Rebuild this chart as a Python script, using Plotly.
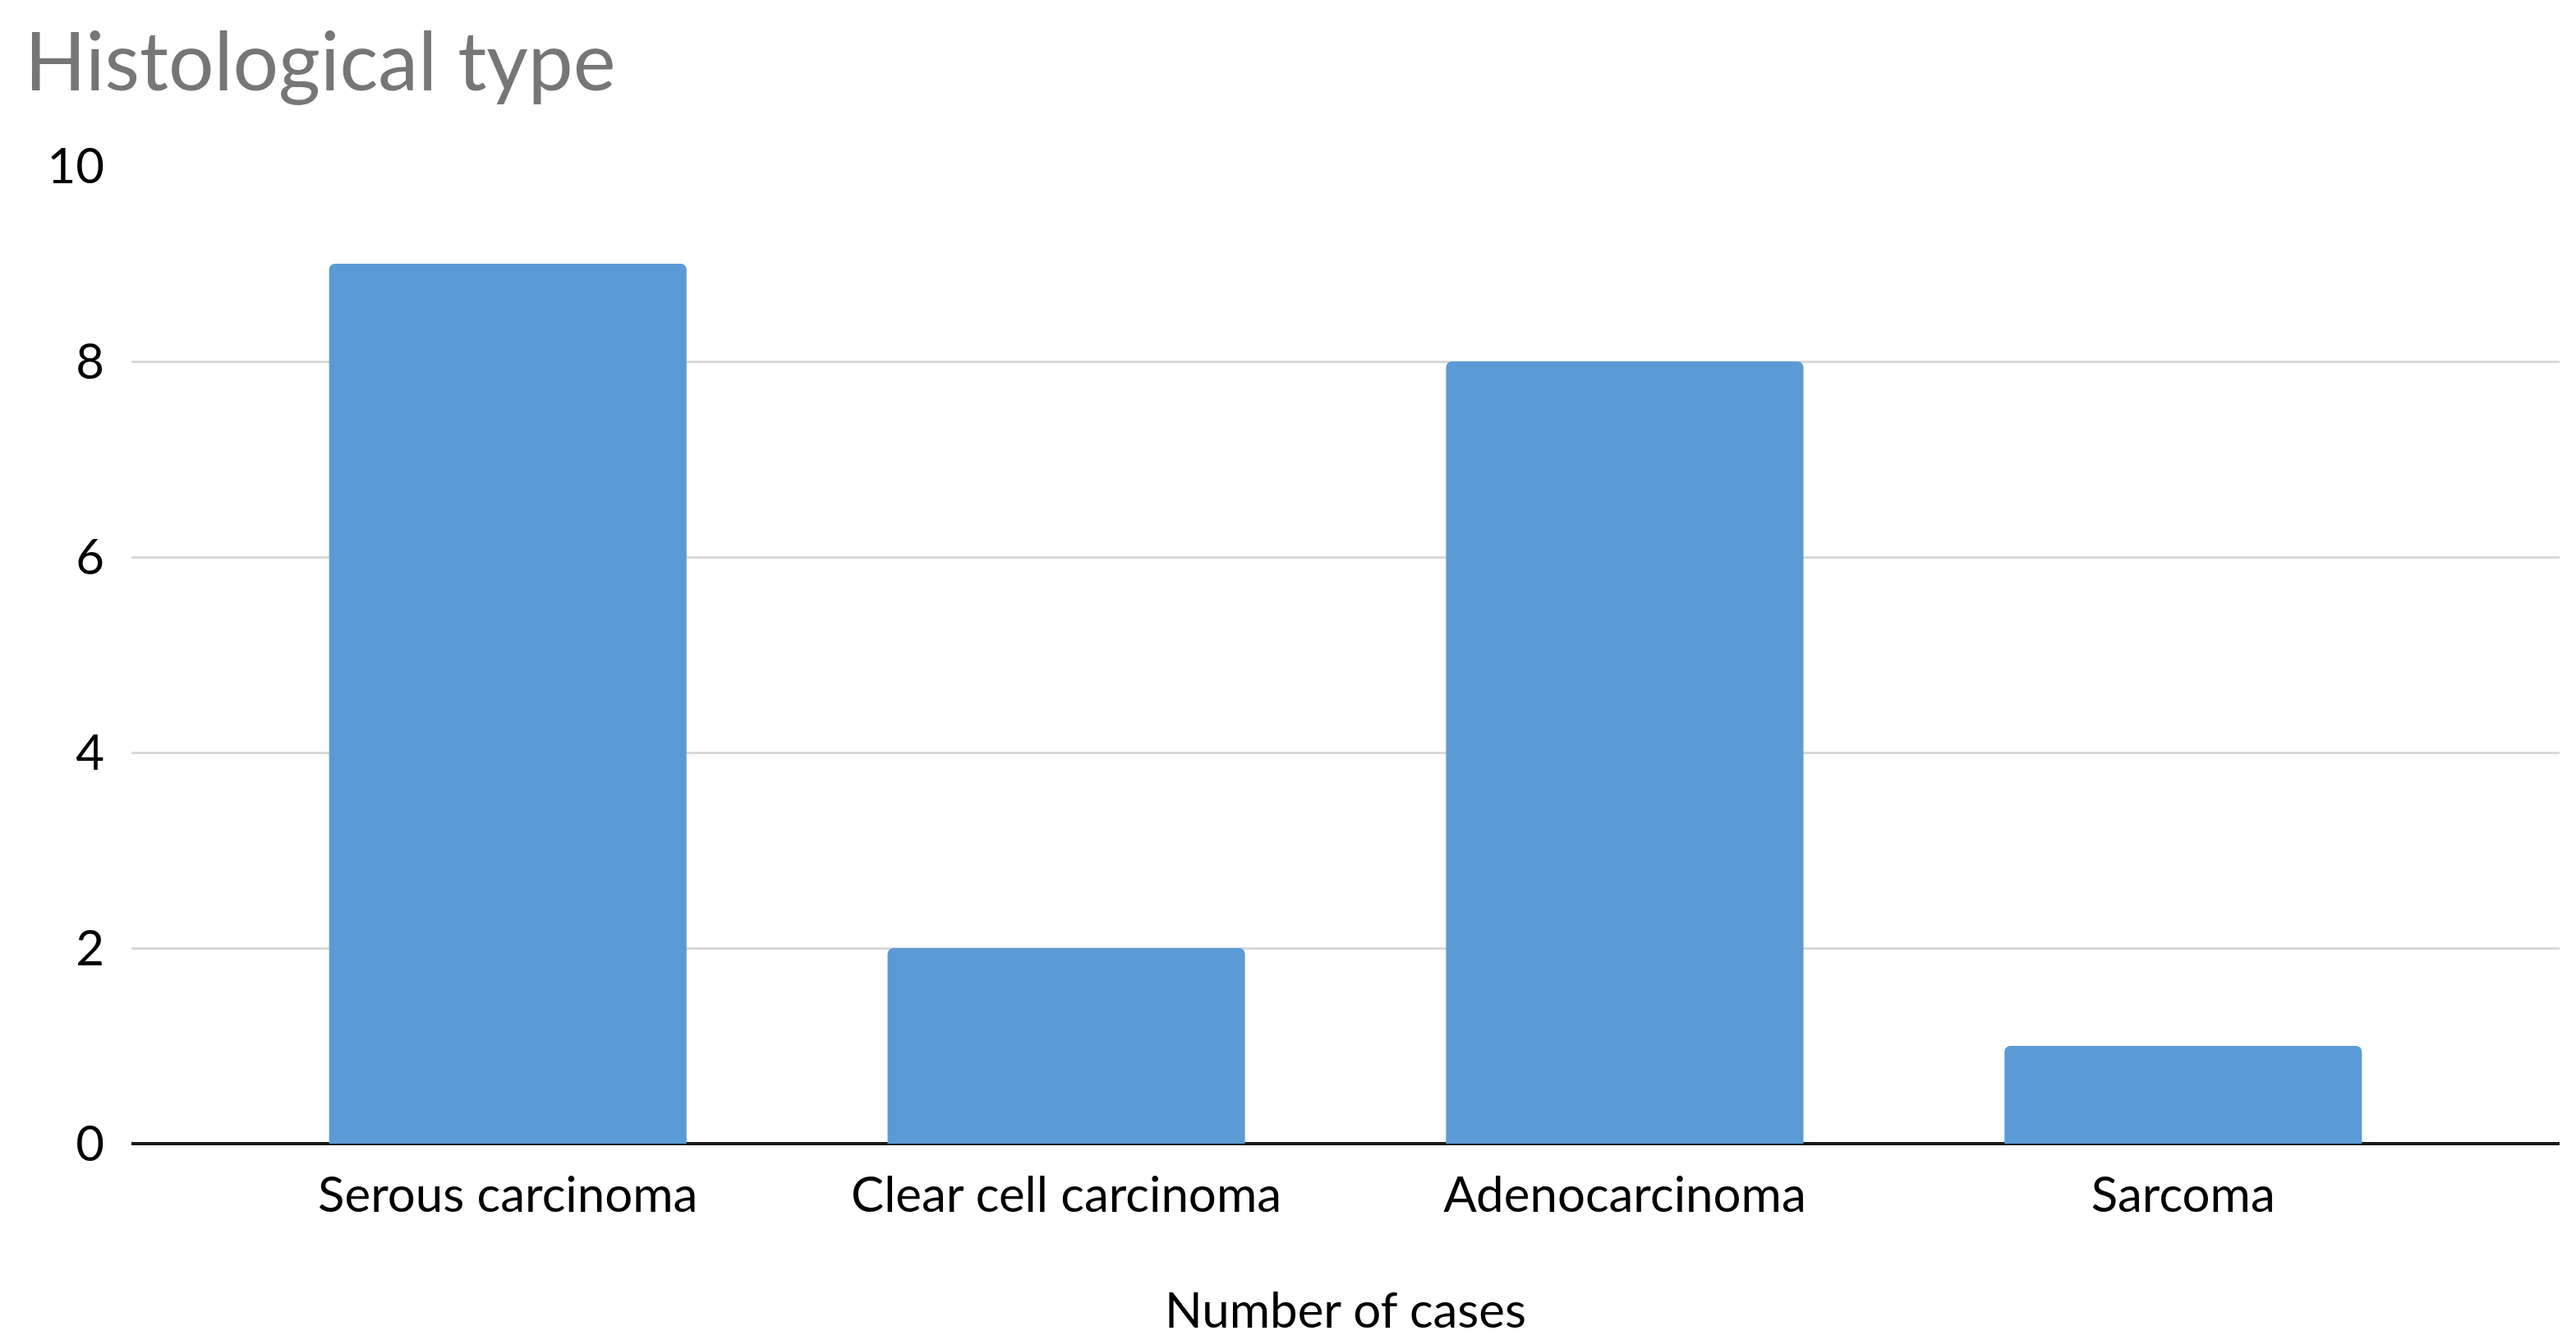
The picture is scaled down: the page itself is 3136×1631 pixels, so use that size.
import plotly.graph_objects as go

categories = ["Serous carcinoma", "Clear cell carcinoma", "Adenocarcinoma", "Sarcoma"]
cases = [9, 2, 8, 1]
y_ticks = [0, 2, 4, 6, 8, 10]

FONT = "Lato, 'Open Sans', sans-serif"
W, H = 3128, 1623

fig = go.Figure(
    go.Bar(
        x=categories,
        y=cases,
        marker=dict(color="#5B9BD5", cornerradius=7, line=dict(width=0)),
        width=0.64,
    )
)

fig.update_layout(
    width=W,
    height=H,
    paper_bgcolor="white",
    plot_bgcolor="white",
    margin=dict(l=152, r=20, t=194, b=239, autoexpand=False),
    showlegend=False,
    title=dict(
        text="Histological type",
        x=22 / W,
        xanchor="left",
        y=1 - 68 / H,
        yanchor="middle",
        font=dict(family=FONT, size=98, color="#767676"),
    ),
    font=dict(family=FONT, color="black"),
)

fig.update_xaxes(
    range=[-0.674, 3.674],
    showgrid=False,
    showline=False,
    zeroline=False,
    ticks="outside",
    ticklen=10,
    tickcolor="rgba(0,0,0,0)",
    tickfont=dict(family=FONT, size=60, color="black"),
    title=dict(text="Number of cases", font=dict(family=FONT, size=60, color="black"), standoff=86),
)

fig.update_yaxes(
    range=[0, 10],
    tickvals=y_ticks,
    showgrid=True,
    gridcolor="#D9D9D9",
    gridwidth=3,
    zeroline=True,
    zerolinecolor="#1a1a1a",
    zerolinewidth=4,
    showline=False,
    ticks="outside",
    ticklen=20,
    tickcolor="rgba(0,0,0,0)",
    tickfont=dict(family=FONT, size=60, color="black"),
)

fig.write_html("out.html")
